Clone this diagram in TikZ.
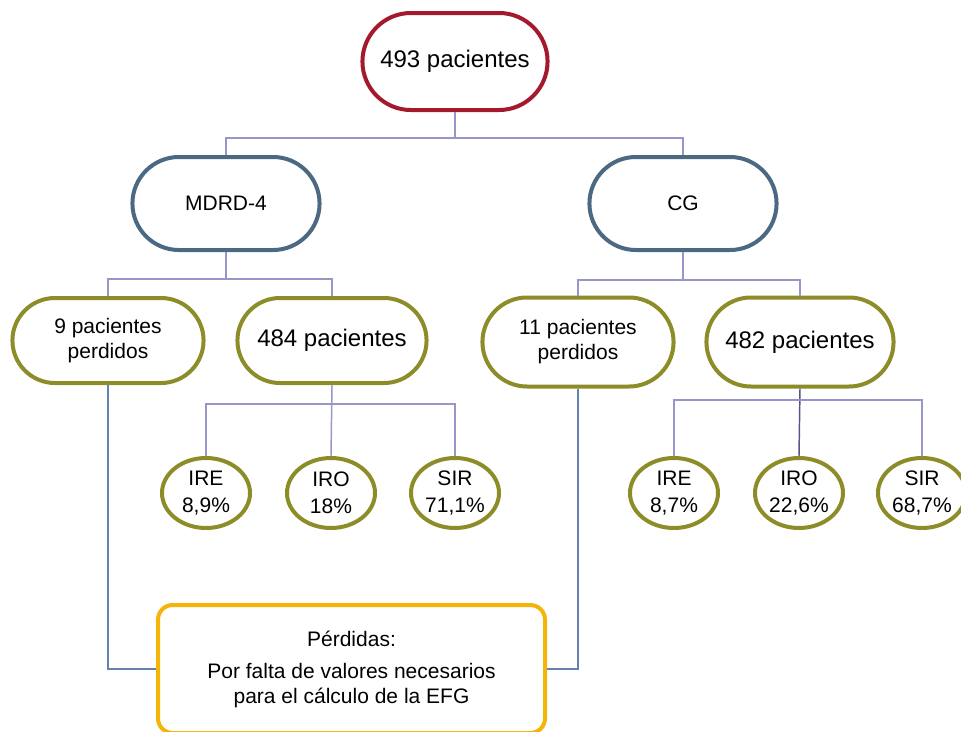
\documentclass[tikz,border=0pt]{standalone}
\usepackage{fontspec}
\setmainfont{Liberation Sans}
\usetikzlibrary{shapes.misc,shapes.geometric}
\definecolor{topred}{RGB}{165,25,45}
\definecolor{methblue}{RGB}{75,105,130}
\definecolor{olivec}{RGB}{140,140,40}
\definecolor{lossorange}{RGB}{245,180,10}
\definecolor{linkc}{RGB}{150,150,200}
\definecolor{linkdark}{RGB}{85,85,140}
\definecolor{lostlink}{RGB}{100,130,175}
\def\pxl{0.75pt}

\begin{document}
\begin{tikzpicture}[x=0.75pt, y=-0.75pt,
    every node/.style={font=\fontsize{15.75}{18.75}\selectfont, align=center},
    pill/.style={rounded rectangle, draw=#1, line width=3pt, fill=white},
    ring/.style={ellipse, draw=olivec, line width=3pt, fill=white, minimum width=88*\pxl, minimum height=70*\pxl, inner sep=0pt},
    link/.style={draw=linkc, line width=1.1pt}]
    \useasboundingbox (0,0) rectangle (961,732);
    % Draw boxes
    \node[pill=topred, minimum width=194*\pxl, minimum height=97*\pxl, font=\fontsize{18}{21}\selectfont] (top) at (455,61.5) {493 pacientes};
    \node[pill=methblue, minimum width=196*\pxl, minimum height=93*\pxl] (mdrd) at (226,203.5) {MDRD-4};
    \node[pill=methblue, minimum width=196*\pxl, minimum height=93*\pxl] (cg) at (683,203.5) {CG};
    \node[pill=olivec, minimum width=200*\pxl, minimum height=85*\pxl] (lost1) at (108,340.5) {9 pacientes\\perdidos};
    \node[pill=olivec, minimum width=198*\pxl, minimum height=85*\pxl, font=\fontsize{18}{21}\selectfont] (n484) at (332,340.5) {484 pacientes};
    \node[pill=olivec, minimum width=200*\pxl, minimum height=89*\pxl] (lost2) at (578,342) {11 pacientes\\perdidos};
    \node[pill=olivec, minimum width=196*\pxl, minimum height=89*\pxl, font=\fontsize{18}{21}\selectfont] (n482) at (800,342) {482 pacientes};
    % Draw rings
    \foreach \name/\x/\lab/\val in {re1/206/IRE/{8,9\%}, ro1/331/IRO/{18\%}, sr1/455/SIR/{71,1\%},
                                    re2/674/IRE/{8,7\%}, ro2/799/IRO/{22,6\%}, sr2/922/SIR/{68,7\%}} {
        \node[ring] (\name) at (\x,493) {\lab\\[1.5pt]\val};
    }
    \node[rectangle, rounded corners=11pt, draw=lossorange, line width=3pt, fill=white,
          minimum width=387*\pxl, minimum height=128*\pxl] (loss) at (351.5,669)
          {Pérdidas:\\[5.25pt]Por falta de valores necesarios\\para el cálculo de la EFG};
    % Draw connectors
    \draw[link] (top.south) -- (top.south |- 0,138);
    \draw[link] (mdrd.north) |- (top.south |- 0,138) -| (cg.north);
    \draw[link] (mdrd.south) -- (mdrd.south |- 0,279);
    \draw[link] (lost1.north) |- (mdrd.south |- 0,279) -| (n484.north);
    \draw[link] (cg.south) -- (cg.south |- 0,280);
    \draw[link] (lost2.north) |- (cg.south |- 0,280) -| (n482.north);
    \draw[link] (n484.south) -- (ro1.north);
    \draw[link] (re1.north) |- (n484.south |- 0,404) -| (sr1.north);
    \draw[link, draw=linkdark] (n482.south) -- (ro2.north);
    \draw[link] (re2.north) |- (n482.south |- 0,400) -| (sr2.north);
    \draw[link, draw=lostlink] (lost1.south) |- (loss.west);
    \draw[link, draw=lostlink] (lost2.south) |- (loss.east);
\end{tikzpicture}
\end{document}
